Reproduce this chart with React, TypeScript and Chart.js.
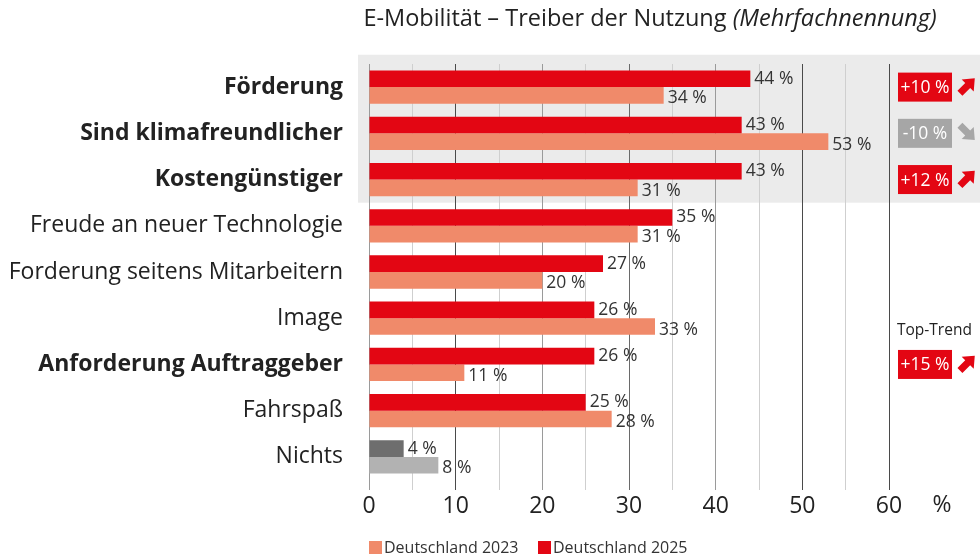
import React, { useEffect, useRef } from "react";
import { Chart, registerables } from "chart.js";

Chart.register(...registerables);

const categories = [
  "Förderung",
  "Sind klimafreundlicher",
  "Kostengünstiger",
  "Freude an neuer Technologie",
  "Forderung seitens Mitarbeitern",
  "Image",
  "Anforderung Auftraggeber",
  "Fahrspaß",
  "Nichts",
];
const boldCategories = [true, true, true, false, false, false, true, false, false];
const values2025 = [44, 43, 43, 35, 27, 26, 26, 25, 4];
const values2023 = [34, 53, 31, 31, 20, 33, 11, 28, 8];
const trendLabels = ["+10 %", "-10 %", "+12 %", "", "", "", "+15 %", "", ""];
const trendUp = [true, false, true, false, false, false, true, false, false];
const topTrendIndex = 6;
const xTickValues = [0, 10, 20, 30, 40, 50, 60];
const seriesNames = ["Deutschland 2023", "Deutschland 2025"];
const titleMain = "E-Mobilität – Treiber der Nutzung ";
const titleItalic = "(Mehrfachnennung)";

const RED = "#e30613";
const SALMON = "#f08a6a";
const DARKGRAY = "#6e6e6e";
const LIGHTGRAY = "#b2b2b2";
const BADGE_GRAY = "#a6a6a6";
const FONT = "'Open Sans', 'Noto Sans', sans-serif";
const TEXT = "#222222";

function drawArrow(ctx: CanvasRenderingContext2D, cx: number, cy: number, up: boolean, color: string) {
  ctx.save();
  ctx.translate(cx, cy);
  ctx.rotate(up ? -Math.PI / 4 : Math.PI / 4);
  ctx.fillStyle = color;
  ctx.beginPath();
  ctx.moveTo(-10, -3.5);
  ctx.lineTo(1, -3.5);
  ctx.lineTo(1, -8.5);
  ctx.lineTo(11, 0);
  ctx.lineTo(1, 8.5);
  ctx.lineTo(1, 3.5);
  ctx.lineTo(-10, 3.5);
  ctx.closePath();
  ctx.fill();
  ctx.restore();
}

const decorPlugin = {
  id: "decor",
  beforeDraw(chart: any) {
    const ctx = chart.ctx as CanvasRenderingContext2D;
    const y = chart.scales.y;
    const step = y.getPixelForValue(1) - y.getPixelForValue(0);
    const top = y.getPixelForValue(0) - step * 0.7;
    const bottom = (y.getPixelForValue(2) + y.getPixelForValue(3)) / 2;
    ctx.save();
    ctx.fillStyle = "#ebebeb";
    ctx.fillRect(358, top, chart.width - 358, bottom - top);
    ctx.restore();
  },
  afterDatasetsDraw(chart: any) {
    const ctx = chart.ctx as CanvasRenderingContext2D;
    ctx.save();
    ctx.font = `17.5px ${FONT}`;
    ctx.fillStyle = "#333333";
    ctx.textBaseline = "middle";
    ctx.textAlign = "left";
    chart.data.datasets.forEach((ds: any, di: number) => {
      const meta = chart.getDatasetMeta(di);
      meta.data.forEach((bar: any, i: number) => {
        ctx.fillText(`${ds.data[i]} %`, bar.x + 4, bar.y + (di === 1 ? 3 : 0));
      });
    });
    ctx.restore();
  },
  afterDraw(chart: any) {
    const ctx = chart.ctx as CanvasRenderingContext2D;
    const y = chart.scales.y;
    ctx.save();
    // Title
    ctx.textBaseline = "middle";
    ctx.fillStyle = TEXT;
    const fMain = `23.5px ${FONT}`;
    const fIt = `italic 23.5px ${FONT}`;
    ctx.font = fMain;
    const w1 = ctx.measureText(titleMain).width;
    ctx.font = fIt;
    const w2 = ctx.measureText(titleItalic).width;
    const tx = 650 - (w1 + w2) / 2;
    ctx.font = fMain;
    ctx.textAlign = "left";
    ctx.fillText(titleMain, tx, 19);
    ctx.font = fIt;
    ctx.fillText(titleItalic, tx + w1, 19);

    // % axis unit
    ctx.font = `23px ${FONT}`;
    ctx.textAlign = "center";
    ctx.fillText("%", 942, 505);

    // Badges
    trendLabels.forEach((lbl, i) => {
      if (!lbl) return;
      const cy = y.getPixelForValue(i);
      const color = trendUp[i] ? RED : BADGE_GRAY;
      ctx.fillStyle = color;
      ctx.fillRect(898, cy - 14.5, 54, 29);
      ctx.fillStyle = "#ffffff";
      ctx.font = `17.5px ${FONT}`;
      ctx.textAlign = "center";
      ctx.textBaseline = "middle";
      ctx.fillText(lbl, 925, cy + 1);
      drawArrow(ctx, 967, cy - 1, trendUp[i], color);
      if (i === topTrendIndex) {
        ctx.fillStyle = TEXT;
        ctx.font = `15.5px ${FONT}`;
        ctx.textAlign = "left";
        ctx.fillText("Top-Trend", 897, cy - 34);
      }
    });

    // Legend
    ctx.font = `16px ${FONT}`;
    ctx.textAlign = "left";
    ctx.textBaseline = "middle";
    ctx.fillStyle = SALMON;
    ctx.fillRect(369, 541, 13, 13);
    ctx.fillStyle = "#333333";
    ctx.fillText(seriesNames[0], 384, 548);
    ctx.fillStyle = RED;
    ctx.fillRect(538, 541, 13, 13);
    ctx.fillStyle = "#333333";
    ctx.fillText(seriesNames[1], 553, 548);
    ctx.restore();
  },
};

export default function App() {
  const ref = useRef<HTMLCanvasElement>(null);
  useEffect(() => {
    if (!ref.current) return;
    const n = categories.length;
    const chart = new Chart(ref.current, {
      type: "bar",
      data: {
        labels: categories,
        datasets: [
          {
            label: seriesNames[1],
            data: values2025,
            backgroundColor: values2025.map((_, i) => (i === n - 1 ? DARKGRAY : RED)),
            categoryPercentage: 0.72,
            barPercentage: 1.0,
          },
          {
            label: seriesNames[0],
            data: values2023,
            backgroundColor: values2023.map((_, i) => (i === n - 1 ? LIGHTGRAY : SALMON)),
            categoryPercentage: 0.72,
            barPercentage: 1.0,
          },
        ],
      },
      options: {
        indexAxis: "y",
        animation: false,
        responsive: true,
        maintainAspectRatio: false,
        layout: { padding: { top: 64, right: 91, left: 0, bottom: 0 } },
        plugins: { legend: { display: false }, tooltip: { enabled: false }, title: { display: false } },
        scales: {
          x: {
            min: 0,
            max: 60,
            afterBuildTicks: (s: any) => {
              const t: any[] = [];
              for (let v = 0; v <= 60; v += 5) t.push({ value: v });
              s.ticks = t;
            },
            afterFit: (s: any) => {
              s.height = 80;
            },
            ticks: {
              autoSkip: false,
              maxRotation: 0,
              padding: 3,
              color: TEXT,
              font: { family: FONT, size: 23 },
              callback: (v: any) => (xTickValues.includes(Number(v)) ? String(v) : ""),
            },
            border: { display: false },
            grid: {
              tickLength: 10,
              lineWidth: 1,
              color: (c: any) => {
                const v = c.tick ? c.tick.value : 0;
                if (v === 10 || v === 50 || v === 60) return "#4a4a4a";
                if (v === 30) return "#6a6a6a";
                if (v % 10 === 0) return "#9a9a9a";
                return "#cfcfcf";
              },
            },
          },
          y: {
            afterFit: (s: any) => {
              s.width = 369;
            },
            grid: { display: false },
            border: { display: false },
            ticks: {
              padding: 18,
              color: TEXT,
              autoSkip: false,
              font: (c: any) => ({
                family: FONT,
                size: 23,
                weight: boldCategories[c.index] ? "bold" : "normal",
              }),
            },
          },
        },
      },
      plugins: [decorPlugin],
    });
    return () => chart.destroy();
  }, []);
  return (
    <div style={{ position: "fixed", left: 0, top: 0, width: 980, height: 560, background: "#ffffff" }}>
      <canvas ref={ref} />
    </div>
  );
}
